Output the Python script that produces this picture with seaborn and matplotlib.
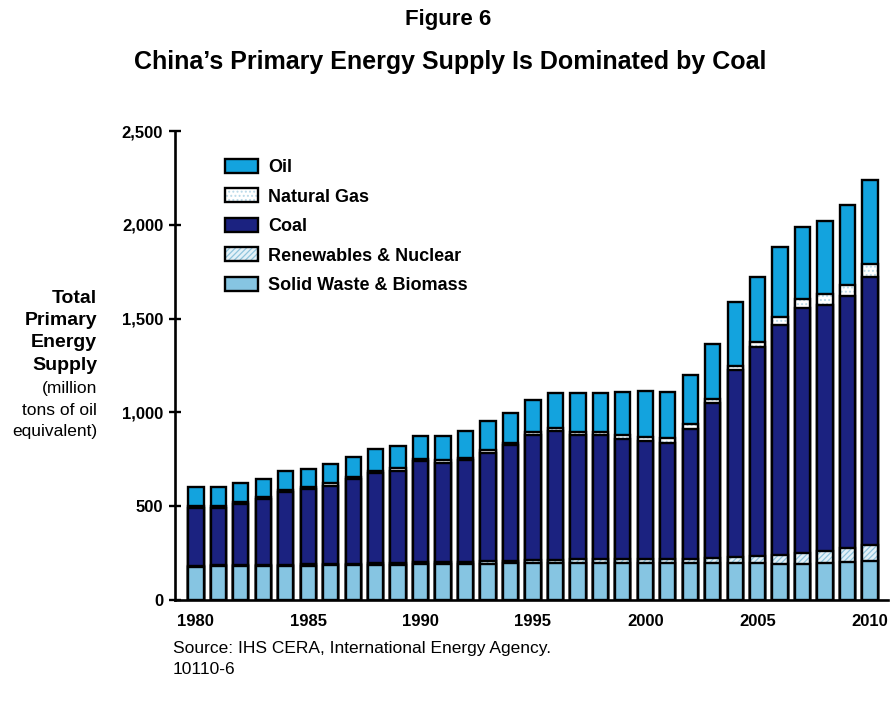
import matplotlib
matplotlib.use("Agg")
import matplotlib.pyplot as plt
import pandas as pd
import seaborn as sns
from matplotlib.patches import Patch
from matplotlib.legend_handler import HandlerTuple

# China primary energy supply by source, million tons of oil equivalent
years = list(range(1980, 2011))
solid_waste_biomass = [178, 179, 180, 181, 182, 183, 184, 185, 186, 188,
                       190, 191, 193, 194, 196, 197, 198, 199, 199, 199,
                       198, 197, 196, 195, 195, 195, 194, 194, 196, 200, 206]
renewables_nuclear = [5, 5, 6, 6, 7, 8, 8, 9, 9, 10,
                      11, 11, 12, 13, 14, 15, 16, 17, 18, 20,
                      22, 24, 25, 28, 32, 38, 45, 55, 65, 75, 85]
coal = [306, 306, 327, 349, 386, 399, 418, 451, 481, 492,
        538, 530, 541, 579, 615, 670, 688, 664, 662, 641,
        626, 618, 693, 827, 998, 1113, 1228, 1306, 1311, 1344, 1433]
natural_gas = [12, 11, 11, 11, 11, 11, 12, 12, 12, 13,
               13, 13, 13, 14, 14, 15, 16, 17, 18, 20,
               21, 23, 22, 20, 22, 27, 40, 48, 58, 60, 65]
oil = [103, 100, 98, 98, 100, 99, 105, 107, 118, 120,
       121, 130, 142, 154, 160, 169, 183, 208, 208, 230,
       249, 248, 265, 295, 343, 351, 373, 387, 390, 426, 450]

series_labels = ["Oil", "Natural Gas", "Coal", "Renewables & Nuclear",
                 "Solid Waste & Biomass"]
ytick_values = [0, 500, 1000, 1500, 2000, 2500]
ytick_labels = ["0", "500", "1,000", "1,500", "2,000", "2,500"]
xtick_values = [1980, 1985, 1990, 1995, 2000, 2005, 2010]

OIL_C = "#13a3de"
GAS_C = "#ffffff"
GAS_HATCH = "#b9d9e8"
COAL_C = "#1b2280"
REN_C = "#e3f1f8"
REN_HATCH = "#8fc4dc"
SOLID_C = "#86c5e2"
EDGE = "black"
LW = 1.7
WIDTH = 0.68

sns.set_theme(style="white")
plt.rcParams["font.family"] = ["Liberation Sans", "DejaVu Sans"]
plt.rcParams["text.color"] = "black"
plt.rcParams["hatch.linewidth"] = 0.9

df = pd.DataFrame({
    "year": years,
    "solid": solid_waste_biomass,
    "ren": renewables_nuclear,
    "coal": coal,
    "gas": natural_gas,
    "oil": oil,
})
df["c_solid"] = df["solid"]
df["c_ren"] = df["c_solid"] + df["ren"]
df["c_coal"] = df["c_ren"] + df["coal"]
df["c_gas"] = df["c_coal"] + df["gas"]
df["c_oil"] = df["c_gas"] + df["oil"]

fig = plt.figure(figsize=(8.96, 7.06), dpi=100)
ax = fig.add_axes([175 / 896, 1 - 600 / 706, (888 - 175) / 896, (600 - 131) / 706])


def solid_layer(col, color):
    sns.barplot(data=df, x="year", y=col, native_scale=True, color=color,
                saturation=1, width=WIDTH, edgecolor=EDGE, linewidth=LW,
                errorbar=None, ax=ax)


def hatched_layer(col, color, hatch, hatch_color):
    sns.barplot(data=df, x="year", y=col, native_scale=True, color=color,
                saturation=1, width=WIDTH, edgecolor=hatch_color, linewidth=0,
                hatch=hatch, errorbar=None, ax=ax)
    sns.barplot(data=df, x="year", y=col, native_scale=True, color=EDGE,
                fill=False, width=WIDTH, linewidth=LW, errorbar=None, ax=ax)


# stacked bars: tallest cumulative layer first, each lower layer drawn on top
solid_layer("c_oil", OIL_C)
hatched_layer("c_gas", GAS_C, "....", GAS_HATCH)
solid_layer("c_coal", COAL_C)
hatched_layer("c_ren", REN_C, "//////", REN_HATCH)
solid_layer("c_solid", SOLID_C)

ax.set_xlim(1980 - 0.93, 2010 + 0.8)
ax.set_ylim(0, 2500)
ax.set_yticks(ytick_values)
ax.set_yticklabels(ytick_labels, fontsize=12, fontweight="bold")
ax.set_xticks(xtick_values)
ax.set_xticklabels([str(y) for y in xtick_values], fontsize=12, fontweight="bold")
ax.set_xlabel("")
ax.set_ylabel("")
ax.tick_params(axis="y", left=True, direction="inout", length=9, width=1.7,
               pad=4, colors="black")
ax.tick_params(axis="x", bottom=False, length=0, pad=10, colors="black")
sns.despine(ax=ax)
for side in ("left", "bottom"):
    ax.spines[side].set_linewidth(1.9)
    ax.spines[side].set_color("black")

# legend
def sw(face, edge=EDGE):
    return Patch(facecolor=face, edgecolor=edge, linewidth=LW)


def hw(face, hatch, hcol):
    return (Patch(facecolor=face, edgecolor=hcol, linewidth=0, hatch=hatch),
            Patch(facecolor="none", edgecolor=EDGE, linewidth=LW))


handles = [sw(OIL_C), hw(GAS_C, "....", GAS_HATCH), sw(COAL_C),
           hw(REN_C, "//////", REN_HATCH), sw(SOLID_C)]
leg = ax.legend(handles, series_labels,
                handler_map={tuple: HandlerTuple(ndivide=1, pad=0)},
                loc="upper left", bbox_to_anchor=(225 / 896, 1 - 159 / 706),
                bbox_transform=fig.transFigure, frameon=False,
                prop=dict(weight="bold", size=13), handlelength=1.85,
                handleheight=0.8, handletextpad=0.55, labelspacing=0.68,
                borderpad=0, borderaxespad=0)
for t in leg.get_texts():
    t.set_color("black")

# titles
fig.text(448 / 896, 1 - 19 / 706, "Figure 6", ha="center", va="center",
         fontsize=16, fontweight="bold", color="black")
fig.text(450 / 896, 1 - 62 / 706,
         "China\u2019s Primary Energy Supply Is Dominated by Coal",
         ha="center", va="center", fontsize=18, fontweight="bold",
         color="black")

# y-axis title
fig.text(97 / 896, 1 - 290 / 706, "Total\nPrimary\nEnergy\nSupply",
         ha="right", va="top", fontsize=14, fontweight="bold",
         linespacing=1.4, color="black")
fig.text(97 / 896, 1 - 381 / 706, "(million\ntons of oil\nequivalent)",
         ha="right", va="top", fontsize=12.5, linespacing=1.56, color="black")

# source note
fig.text(173 / 896, 1 - 648 / 706,
         "Source: IHS CERA, International Energy Agency.",
         ha="left", va="center", fontsize=12.5, color="black")
fig.text(173 / 896, 1 - 670 / 706, "10110-6", ha="left", va="center",
         fontsize=12.5, color="black")

fig.savefig("out.png", dpi=100)
